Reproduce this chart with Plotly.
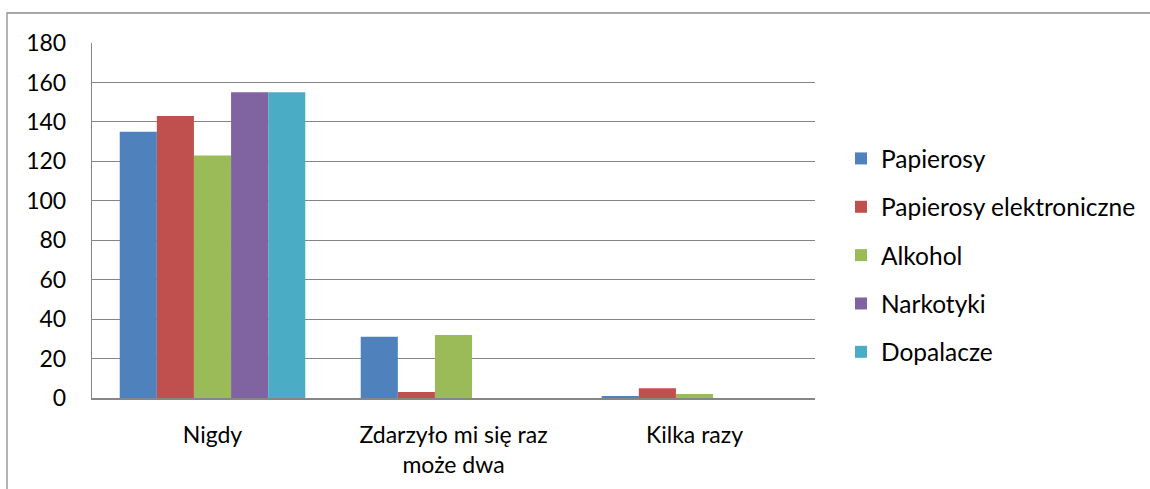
import plotly.graph_objects as go

categories = ["Nigdy", "Zdarzyło mi się raz<br>może dwa", "Kilka razy"]
series_names = ["Papierosy", "Papierosy elektroniczne", "Alkohol", "Narkotyki", "Dopalacze"]
papierosy = [135, 31, 1]
papierosy_elektroniczne = [143, 3, 5]
alkohol = [123, 32, 2]
narkotyki = [155, 0, 0]
dopalacze = [155, 0, 0]
series_values = [papierosy, papierosy_elektroniczne, alkohol, narkotyki, dopalacze]
colors = ["#4F81BD", "#C0504D", "#9BBB59", "#8064A2", "#4BACC6"]
y_ticks = [0, 20, 40, 60, 80, 100, 120, 140, 160, 180]

W, H = 1150, 489
L, R, T, B = 92, 335, 43, 91
pw, ph = W - L - R, H - T - B

FONT = "Lato"
fig = go.Figure()
for i, (name, vals, col) in enumerate(zip(series_names, series_values, colors)):
    fig.add_trace(go.Bar(x=categories, y=vals, name=name, marker_color=col,
                         marker_line_width=0, legendgroup=f"g{i}"))

def px_x(p):
    return (p - L) / pw

def px_y(p):
    return (H - B - p) / ph

fig.add_shape(type="rect", xref="paper", yref="paper",
              x0=px_x(7), x1=px_x(1170), y0=px_y(510), y1=px_y(13),
              line=dict(color="#8c8c8c", width=1.3), fillcolor="rgba(0,0,0,0)", layer="below")

fig.update_layout(
    width=W, height=H,
    margin=dict(l=L, r=R, t=T, b=B, autoexpand=False),
    paper_bgcolor="white", plot_bgcolor="white",
    barmode="group", bargap=0.23, bargroupgap=0,
    font=dict(family=FONT, size=23, color="#000000"),
    showlegend=True,
    legend=dict(x=px_x(841), y=px_y(136), xanchor="left", yanchor="top",
                traceorder="grouped", tracegroupgap=13.5,
                font=dict(family=FONT, size=24.5, color="#000000"),
                bgcolor="rgba(0,0,0,0)"),
    xaxis=dict(showgrid=False, showline=True, linecolor="#868686", linewidth=2,
               ticks="", ticklabelstandoff=15, tickfont=dict(size=23)),
    yaxis=dict(range=[0, 180], tickvals=y_ticks, showgrid=True, gridcolor="#858585",
               gridwidth=1.4, showline=True, linecolor="#858585", linewidth=1.4,
               zeroline=False, ticks="", ticklabelstandoff=20, tickfont=dict(size=23)),
)

fig.write_html("out.html", config={"displayModeBar": False},
               post_script="document.body.style.margin='0px';")
